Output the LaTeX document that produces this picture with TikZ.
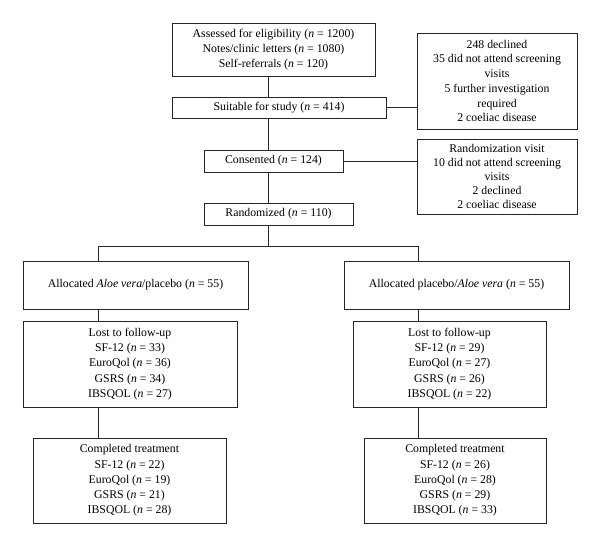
\documentclass[tikz,border=0pt]{standalone}
\usepackage{fontspec}
\setmainfont{Liberation Serif}
\begin{document}
\begin{tikzpicture}[x=1pt,y=-1pt,
  box/.style={draw=black!85,line width=0.9pt,rectangle,inner sep=0pt,align=center,
    font=\fontsize{11.8}{15.2}\selectfont},
  link/.style={draw=black!85,line width=0.9pt}]
\useasboundingbox[fill=white] (0,0) rectangle (600,546);
\newcommand{\nn}{\textit{n}}
\node[box,minimum width=203,minimum height=53] (top) at (273.5,49.5)
  {Assessed for eligibility (\nn{} = 1200)\\Notes/clinic letters (\nn{} = 1080)\\Self-referrals (\nn{} = 120)};
\node[box,minimum width=214,minimum height=21] (suit) at (279,107.5) {Suitable for study (\nn{} = 414)};
\node[box,minimum width=139,minimum height=22] (cons) at (273.5,161) {Consented (\nn{} = 124)};
\node[box,minimum width=149,minimum height=22] (rand) at (278.5,214) {Randomized (\nn{} = 110)};
\node[box,minimum width=160,minimum height=96,font=\fontsize{11.8}{14.7}\selectfont] (ex1) at (497,81)
  {248 declined\\35 did not attend screening\\visits\\5 further investigation\\required\\2 coeliac disease};
\node[box,minimum width=160,minimum height=75,font=\fontsize{11.8}{14.2}\selectfont] (ex2) at (497,176.5)
  {Randomization visit\\10 did not attend screening\\visits\\2 declined\\2 coeliac disease};
\node[box,minimum width=225,minimum height=48] (allocL) at (135.5,285) {Allocated \textit{Aloe vera}/placebo (\nn{} = 55)};
\node[box,minimum width=225,minimum height=48] (allocR) at (456.5,285) {Allocated placebo/\textit{Aloe vera} (\nn{} = 55)};
\node[box,minimum width=214,minimum height=86] (lostL) at (130,364)
  {Lost to follow-up\\SF-12 (\nn{} = 33)\\EuroQol (\nn{} = 36)\\GSRS (\nn{} = 34)\\IBSQOL (\nn{} = 27)};
\node[box,minimum width=193,minimum height=86] (lostR) at (449.5,364)
  {Lost to follow-up\\SF-12 (\nn{} = 29)\\EuroQol (\nn{} = 27)\\GSRS (\nn{} = 26)\\IBSQOL (\nn{} = 22)};
\node[box,minimum width=193,minimum height=85] (compL) at (129.5,480.5)
  {Completed treatment\\SF-12 (\nn{} = 22)\\EuroQol (\nn{} = 19)\\GSRS (\nn{} = 21)\\IBSQOL (\nn{} = 28)};
\node[box,minimum width=182,minimum height=85] (compR) at (455,480.5)
  {Completed treatment\\SF-12 (\nn{} = 26)\\EuroQol (\nn{} = 28)\\GSRS (\nn{} = 29)\\IBSQOL (\nn{} = 33)};
\coordinate (tx) at (268,0);
\coordinate (br) at (268,246);
\coordinate (lx) at (98,246);
\coordinate (rx) at (418,246);
\draw[link] (top.south -| tx) -- (suit.north -| tx);
\draw[link] (suit.south -| tx) -- (cons.north -| tx);
\draw[link] (cons.south -| tx) -- (rand.north -| tx);
\draw[link] (rand.south -| tx) -- (br);
\draw[link] (suit.east) -- (ex1.west |- suit.east);
\draw[link] (cons.east) -- (ex2.west |- cons.east);
\draw[link] (allocL.north -| lx) -- (lx) -- (rx) -- (allocR.north -| rx);
\draw[link] (allocL.south -| lx) -- (lostL.north -| lx);
\draw[link] (lostL.south -| lx) -- (compL.north -| lx);
\draw[link] (allocR.south -| rx) -- (lostR.north -| rx);
\draw[link] (lostR.south -| rx) -- (compR.north -| rx);
\end{tikzpicture}
\end{document}
